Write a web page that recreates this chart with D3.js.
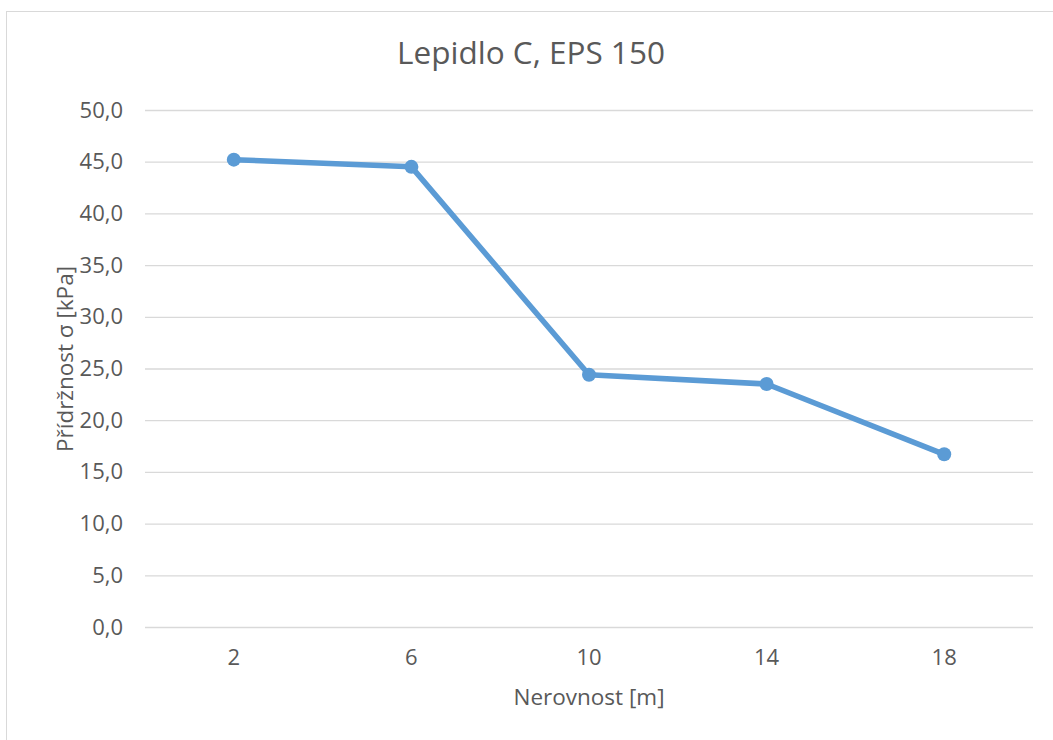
<!DOCTYPE html>
<html>
<head>
<meta charset="utf-8">
<script src="https://cdn.jsdelivr.net/npm/d3@7"></script>
<style>
  html, body { margin: 0; padding: 0; background: #fff; }
  svg { display: block; }
  text { font-family: "Open Sans", "Liberation Sans", Arial, sans-serif; fill: #595959; }
</style>
</head>
<body>
<svg id="chart" width="1053" height="740"></svg>
<script>
// Roughness categories and adhesion values
const categories = ["2", "6", "10", "14", "18"];
const values = [45.2, 44.5, 24.4, 23.5, 16.7];
const yTicks = [0, 5, 10, 15, 20, 25, 30, 35, 40, 45, 50];

const titleText = "Lepidlo C, EPS 150";
const xTitle = "Nerovnost [m]";
const yTitle = "Přídržnost σ [kPa]";

const FONT = "Open Sans, Liberation Sans, Arial, sans-serif";
const svg = d3.select("#chart");
const W = 1053, H = 740;
const plot = { left: 145, right: 1033, top: 110, bottom: 627 };

// chart frame
svg.append("rect")
  .attr("x", 6.5).attr("y", 11.5)
  .attr("width", W + 10).attr("height", H + 10)
  .attr("fill", "#fff").attr("stroke", "#d9d9d9").attr("stroke-width", 1);

const x = d3.scaleBand().domain(categories).range([plot.left, plot.right]);
const y = d3.scaleLinear().domain([0, 50]).range([plot.bottom, plot.top]);

const fmt = v => d3.format(".1f")(v).replace(".", ",");

// horizontal gridlines
svg.append("g")
  .attr("transform", `translate(${plot.left},0)`)
  .call(d3.axisLeft(y).tickValues(yTicks).tickSize(-(plot.right - plot.left)).tickFormat(""))
  .call(g => g.select(".domain").remove())
  .call(g => g.selectAll("line").attr("stroke", "#d9d9d9").attr("stroke-width", 1.3));

// y tick labels
svg.append("g")
  .attr("transform", `translate(${plot.left - 22},0)`)
  .call(d3.axisLeft(y).tickValues(yTicks).tickSize(0).tickPadding(0).tickFormat(fmt))
  .call(g => g.select(".domain").remove())
  .call(g => g.selectAll("text")
    .attr("font-size", 22).attr("fill", "#595959")
    .attr("font-family", FONT));

// x tick labels
svg.append("g")
  .attr("transform", `translate(0,${plot.bottom})`)
  .call(d3.axisBottom(x).tickSize(0).tickPadding(22))
  .call(g => g.select(".domain").remove())
  .call(g => g.selectAll("text")
    .attr("font-size", 22).attr("fill", "#595959")
    .attr("font-family", FONT));

const cx = d => x(d) + x.bandwidth() / 2;

// series line
const line = d3.line()
  .x((d, i) => cx(categories[i]))
  .y(d => y(d));

svg.append("path")
  .datum(values)
  .attr("d", line)
  .attr("fill", "none")
  .attr("stroke", "#5b9bd5")
  .attr("stroke-width", 5.5)
  .attr("stroke-linejoin", "round");

// markers
svg.append("g").selectAll("circle")
  .data(values)
  .join("circle")
  .attr("cx", (d, i) => cx(categories[i]))
  .attr("cy", d => y(d))
  .attr("r", 7)
  .attr("fill", "#5b9bd5");

// title
svg.append("text")
  .attr("x", 531).attr("y", 64)
  .attr("text-anchor", "middle")
  .attr("font-size", 31.5)
  .text(titleText);

// axis titles
svg.append("text")
  .attr("x", 589).attr("y", 705)
  .attr("text-anchor", "middle")
  .attr("font-size", 22.5)
  .text(xTitle);

svg.append("text")
  .attr("transform", "translate(73,359) rotate(-90)")
  .attr("text-anchor", "middle")
  .attr("font-size", 22.5)
  .text(yTitle);
</script>
</body>
</html>
